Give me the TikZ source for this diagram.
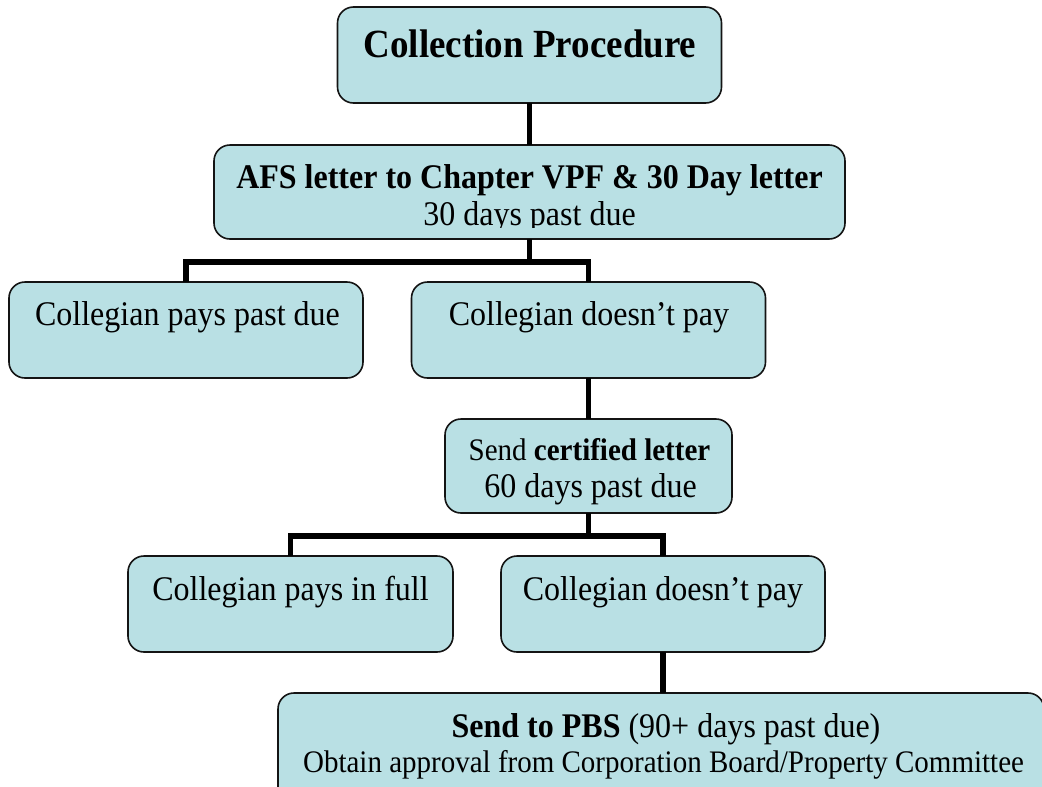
\documentclass[tikz,border=0pt]{standalone}
\usepackage{fontspec}
\usepackage{graphicx}
\setmainfont{Liberation Serif}
\definecolor{boxfill}{RGB}{185,224,228}
\definecolor{boxline}{RGB}{20,20,20}
\newcommand{\tall}[1]{\scalebox{1}[1.08]{#1}}
\tikzset{
  box/.style={draw=boxline, fill=boxfill, line width=1.2pt, rounded corners=12pt,
              inner sep=0pt, outer sep=0pt},
  txt/.style={anchor=base, inner sep=0pt, outer sep=0pt, font=\fontsize{24}{28}\selectfont},
  txtsm/.style={anchor=base, inner sep=0pt, outer sep=0pt, font=\fontsize{21.75}{26}\selectfont},
  txtbig/.style={anchor=base, inner sep=0pt, outer sep=0pt, font=\fontsize{27.75}{32}\selectfont\bfseries},
  conn/.style={line width=4.2pt, black, line join=miter}
}
\begin{document}
\begin{tikzpicture}[x=0.75pt, y=-0.75pt]
\useasboundingbox (0,0) rectangle (1042,786);
\clip (0,0) rectangle (1042,786);
\fill[white] (0,0) rectangle (1042,786);

% connector coordinates
\coordinate (bus1) at (529.5,262);
\coordinate (bus2) at (588.5,536);

% boxes
\node[box, minimum width=288pt, minimum height=72pt] (b1) at (529.5,55) {};
\node[box, minimum width=473.25pt, minimum height=70.5pt] (b2) at (529.5,192) {};
\node[box, minimum width=265.5pt, minimum height=72pt] (b3) at (186,330) {};
\node[box, minimum width=265.5pt, minimum height=72pt] (b4) at (588.5,330) {};
\node[box, minimum width=215.25pt, minimum height=70.5pt] (b5) at (588.5,466) {};
\node[box, minimum width=243.75pt, minimum height=72pt] (b6) at (290.5,604) {};
\node[box, minimum width=243pt, minimum height=72pt] (b7) at (663,604) {};
\node[box, minimum width=574.5pt, minimum height=105pt] (b8) at (661,763) {};

% connectors
\draw[conn] (b1.south) -- (b2.north);
\draw[conn] (b2.south) -- (bus1);
\draw[conn] (b3.north) |- (bus1) -| (b4.north);
\draw[conn] (b4.south) -- (b5.north);
\draw[conn] (b5.south) -- (bus2);
\draw[conn] (b6.north) |- (bus2) -| (b7.north);
\draw[conn] (b7.south) -- (b7.south |- b8.north);

% texts
\node[txtbig] (t1) at (530,57) {\tall{Collection Procedure}};
\node[txt, font=\fontsize{24}{28}\selectfont\bfseries] (t2a) at (529.5,188) {\tall{AFS letter to Chapter VPF \& 30 Day letter}};
\begin{scope}
  \clip (214,145) rectangle (845,227.5);
  \node[txt] (t2b) at (529.5,225) {\tall{30 days past due}};
\end{scope}
\node[txt] (t3) at (187.5,325) {\tall{Collegian pays past due}};
\node[txt] (t4) at (589,325) {\tall{Collegian doesn’t pay}};
\node[txtsm] (t5a) at (589.5,460) {\tall{Send \textbf{certified letter}}};
\node[txt] (t5b) at (590.5,497) {\tall{60 days past due}};
\node[txt] (t6) at (290.5,600) {\tall{Collegian pays in full}};
\node[txt] (t7) at (663,600) {\tall{Collegian doesn’t pay}};
\node[txt] (t8a) at (666,737) {\tall{\textbf{Send to PBS} (90+ days past due)}};
\node[txtsm] (t8b) at (663.5,772) {\tall{Obtain approval from Corporation Board/Property Committee}};
\end{tikzpicture}
\end{document}
